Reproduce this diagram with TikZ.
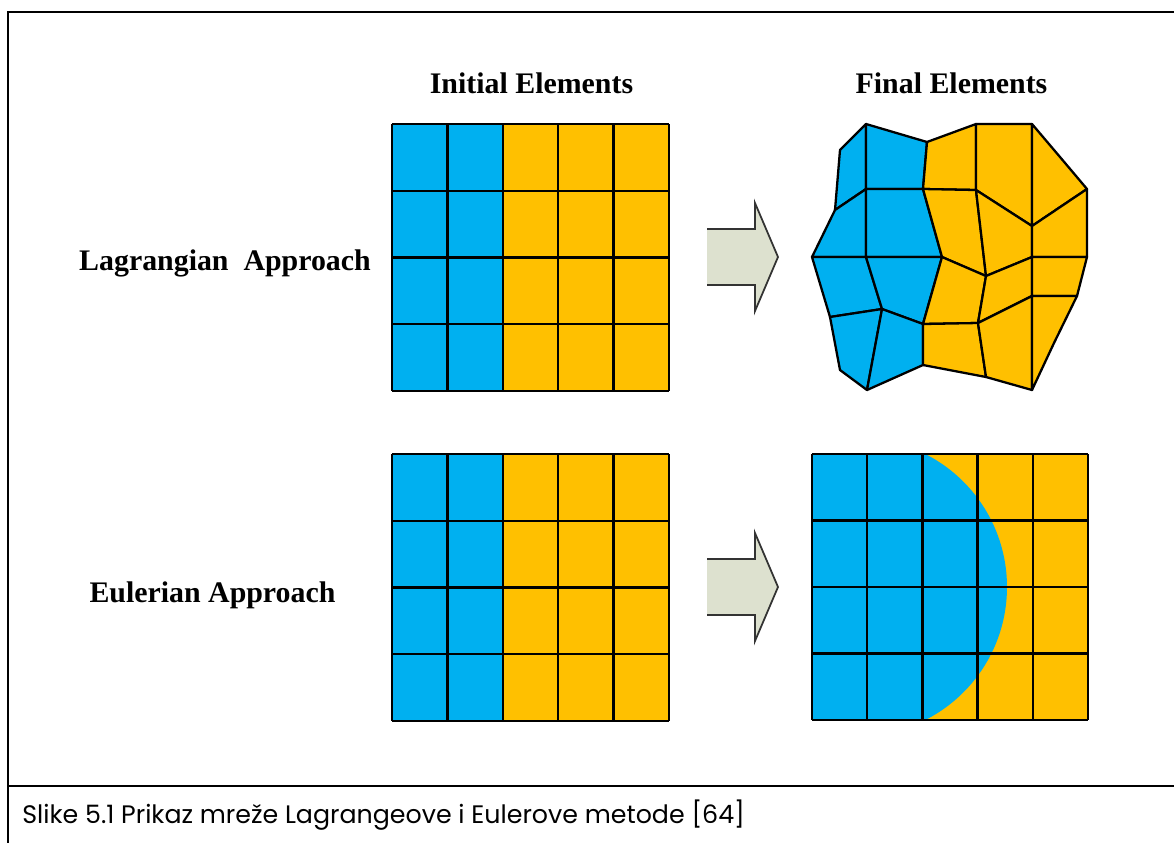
\documentclass[tikz,border=0pt]{standalone}
\usepackage{fontspec}
\setmainfont{Liberation Serif}
\newfontfamily\captionfont{Poppins}
\usetikzlibrary{positioning}
\definecolor{meshblue}{HTML}{00B0F0}
\definecolor{meshyellow}{HTML}{FFC000}
\definecolor{arrowfill}{HTML}{DDE1CF}

\begin{document}
\begin{tikzpicture}[
    x=0.02cm, y=-0.02cm,
    heading/.style={font=\fontsize{17}{20}\selectfont\bfseries, inner sep=0pt, anchor=base},
    caption/.style={font=\captionfont\fontsize{14.4}{17}\selectfont, inner sep=0pt, anchor=base west},
    cell/.style={draw=black, line width=1.3pt, line join=round},
    frameline/.style={line width=1.3pt},
    blockarrow/.style={draw=black!80, line width=1pt, line join=miter},
]
    \useasboundingbox (0,0) rectangle (1174,843);

    % Frame
    \draw[frameline] (1174,12) -- (8,12) -- (8,843);
    \draw[frameline] (8,786) -- (1174,786);

    % Headings
    \node[heading] (initial) at (531.5,93) {Initial Elements};
    \node[heading] (final) at (951.5,93) {Final Elements};
    \node[heading] (lagr) at (225,270) {Lagrangian\ \ Approach};
    \node[heading] (euler) at (212.5,602) {Eulerian Approach};

    % Initial grids
    \foreach \y in {124,454} {
        \fill[meshblue] (392,\y) rectangle (502.8,\y+267);
        \fill[meshyellow] (502.8,\y) rectangle (669,\y+267);
        \foreach \k in {0,...,5} \draw[cell] (392+55.4*\k,\y) -- ++(0,267);
        \foreach \k in {0,...,4} \draw[cell] (392,\y+66.75*\k) -- ++(277,0);
    }

    % Block arrows
    \foreach \m in {257,587} {
        \fill[arrowfill] (707,\m-28) -- (755,\m-28) -- (755,\m-54) -- (778,\m)
            -- (755,\m+54) -- (755,\m+28) -- (707,\m+28) -- cycle;
        \draw[blockarrow] (707,\m-28) -- (755,\m-28) -- (755,\m-54) -- (778,\m)
            -- (755,\m+54) -- (755,\m+28) -- (707,\m+28);
    }

    % Lagrangian final mesh
    \foreach \n/\px/\py in {00/840/150, 10/866/124, 20/927/142, 30/976/124, 40/1032/124, 50/1060/157,
                            01/835/210, 11/866/189, 21/923/189, 31/976/190, 41/1032/226, 51/1087/189,
                            02/812/257, 12/866/257, 22/942/257, 32/986/276, 42/1032/257, 52/1087/257,
                            03/830/317, 13/882/309, 23/923/324, 33/978/323, 43/1032/296, 53/1077/296,
                            04/840/370, 14/867/390, 24/923/365, 34/986/377, 44/1032/390, 54/1054/343}
        \coordinate (L\n) at (\px,\py);
    \foreach \i/\ii in {0/1,1/2}
        \foreach \j/\jj in {0/1,1/2,2/3,3/4}
            \filldraw[cell, fill=meshblue] (L\i\j) -- (L\ii\j) -- (L\ii\jj) -- (L\i\jj) -- cycle;
    \foreach \i/\ii in {2/3,3/4,4/5}
        \foreach \j/\jj in {0/1,1/2,2/3,3/4}
            \filldraw[cell, fill=meshyellow] (L\i\j) -- (L\ii\j) -- (L\ii\jj) -- (L\i\jj) -- cycle;

    % Eulerian final grid
    \begin{scope}
        \clip (812,454) rectangle (1088,720);
        \fill[meshyellow] (812,454) rectangle (1088,720);
        \fill[meshblue] (812,454) rectangle (858,720);
        \fill[meshblue] (858,587) circle[radius=149];
    \end{scope}
    \foreach \k in {0,...,5} \draw[cell] (812+55.2*\k,454) -- ++(0,266);
    \foreach \k in {0,...,4} \draw[cell] (812,454+66.5*\k) -- ++(276,0);

    % Caption
    \node[caption] (cap) at (22,823) {Slike 5.1 Prikaz mreže Lagrangeove i Eulerove metode [64]};

\end{tikzpicture}
\end{document}
